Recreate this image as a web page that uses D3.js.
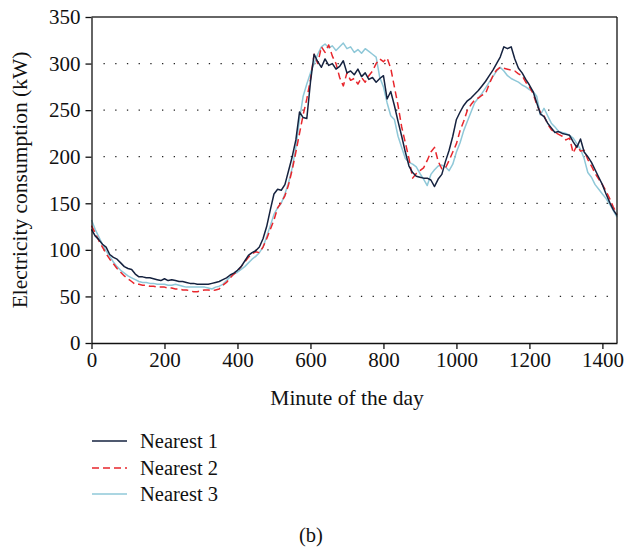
<!DOCTYPE html>
<html>
<head>
<meta charset="utf-8">
<script src="https://cdn.jsdelivr.net/npm/d3@7"></script>
<style>
  html, body { margin: 0; padding: 0; background: #fff; }
  svg { display: block; }
  text { font-family: "Liberation Serif", "DejaVu Serif", serif; fill: #111; }
</style>
</head>
<body>
<svg id="chart" width="632" height="547"></svg>
<script>
// ---- Data ----
const minutes = [0,10,20,30,40,50,60,70,80,90,100,110,120,130,140,150,160,170,180,190,200,210,220,230,240,250,260,270,280,290,300,310,320,330,340,350,360,370,380,390,400,410,420,430,440,450,460,470,480,490,500,510,520,530,540,550,560,570,580,590,600,610,620,630,640,650,660,670,680,690,700,710,720,730,740,750,760,770,780,790,800,810,820,830,840,850,860,870,880,890,900,910,920,930,940,950,960,970,980,990,1000,1010,1020,1030,1040,1050,1060,1070,1080,1090,1100,1110,1120,1130,1140,1150,1160,1170,1180,1190,1200,1210,1220,1230,1240,1250,1260,1270,1280,1290,1300,1310,1320,1330,1340,1350,1360,1370,1380,1390,1400,1410,1420,1430,1440];

const nearest1 = [122,115,111,106,103,95,92,90,86,82,80,79,74,71,71,70,70,69,68,67,69,67,68,67,66,66,65,64,64,63,63,63,63,64,65,66,68,70,73,75,78,82,88,94,97,99,103,112,125,143,160,165,164,170,185,200,218,248,242,241,280,310,302,296,305,298,300,294,297,303,290,292,288,294,286,290,283,285,280,284,287,262,270,255,238,222,205,190,183,179,178,177,177,175,168,176,181,195,207,222,240,248,255,260,263,267,271,276,281,287,293,300,307,318,316,318,305,295,290,283,277,270,258,246,243,236,231,226,227,225,224,223,216,210,219,205,200,194,186,178,170,160,151,143,137];

const nearest2 = [126,118,110,103,96,90,85,80,76,72,69,66,63,63,62,62,61,61,60,60,60,59,59,58,58,57,57,56,55,55,56,57,57,56,57,58,62,65,70,74,77,82,87,92,96,98,97,103,112,122,132,145,151,158,170,186,205,225,245,262,283,310,300,318,312,320,308,300,285,276,290,282,284,278,285,280,287,292,300,305,302,306,295,275,255,232,215,198,177,182,185,188,196,205,210,195,187,188,196,205,214,228,238,250,256,261,263,266,268,278,287,293,296,295,294,293,292,289,287,280,275,268,256,248,244,235,229,226,224,222,218,220,204,212,206,207,197,190,182,176,170,163,155,146,139];

const nearest3 = [132,122,114,106,99,93,87,82,78,75,72,70,68,66,65,65,64,64,63,63,63,62,62,63,62,61,60,60,60,60,60,60,59,58,60,61,63,67,71,74,76,79,82,86,90,93,97,103,114,126,138,145,150,160,172,188,210,240,265,278,290,300,310,318,321,317,319,314,318,322,316,318,312,315,311,316,313,310,307,285,275,258,244,240,222,210,198,194,192,189,182,176,169,181,186,190,191,189,185,192,205,215,228,238,248,258,263,268,274,280,286,292,296,292,287,284,282,280,277,275,272,270,265,245,252,244,236,232,227,226,225,223,220,214,208,198,183,178,170,165,160,155,149,142,135];

const seriesNames = ["Nearest 1", "Nearest 2", "Nearest 3"];
const xTicks = [0, 200, 400, 600, 800, 1000, 1200, 1400];
const yTicks = [0, 50, 100, 150, 200, 250, 300, 350];
const gridValues = [50, 100, 150, 200, 250, 300];

// ---- Layout ----
const svg = d3.select("#chart");
const pLeft = 91.5, pRight = 617, pTop = 17, pBottom = 343;
const x = d3.scaleLinear().domain([0, 1440]).range([pLeft, pRight]);
const y = d3.scaleLinear().domain([0, 350]).range([pBottom, pTop]);

const styles = [
  { color: "#15223f", dash: null },
  { color: "#e8262c", dash: "7,4" },
  { color: "#8fc8d8", dash: null }
];
const allSeries = [nearest1, nearest2, nearest3];

// gridlines (dotted)
svg.append("g").selectAll("line").data(gridValues).join("line")
  .attr("x1", pLeft + 12).attr("x2", pRight - 4)
  .attr("y1", d => y(d)).attr("y2", d => y(d))
  .attr("stroke", "#222").attr("stroke-width", 1.3)
  .attr("stroke-dasharray", "1.3,10.4");

// lines
const line = d3.line().x((d, i) => x(minutes[i])).y(d => y(d));
[2, 1, 0].forEach(k => {
  svg.append("path").datum(allSeries[k])
    .attr("d", line)
    .attr("fill", "none")
    .attr("stroke", styles[k].color)
    .attr("stroke-width", 1.5)
    .attr("stroke-linejoin", "round")
    .attr("stroke-dasharray", styles[k].dash);
});

// frame: top and right
svg.append("line").attr("x1", pLeft).attr("x2", pRight).attr("y1", pTop).attr("y2", pTop)
  .attr("stroke", "#333").attr("stroke-width", 1.3);
svg.append("line").attr("x1", pRight).attr("x2", pRight).attr("y1", pTop).attr("y2", pBottom)
  .attr("stroke", "#111").attr("stroke-width", 1.3);

// axes
const fmt = d3.format("d");
const xAxis = svg.append("g").attr("transform", `translate(0,${pBottom})`)
  .call(d3.axisBottom(x).tickValues(xTicks).tickFormat(fmt).tickSize(6).tickSizeOuter(0).tickPadding(3));
const yAxis = svg.append("g").attr("transform", `translate(${pLeft},0)`)
  .call(d3.axisLeft(y).tickValues(yTicks).tickFormat(fmt).tickSize(6).tickSizeOuter(0).tickPadding(5));
[xAxis, yAxis].forEach(g => {
  g.select(".domain").attr("stroke", "#111").attr("stroke-width", 1.3);
  g.selectAll(".tick line").attr("stroke", "#111").attr("stroke-width", 1.3);
  g.selectAll(".tick text").style("font-family", '"Liberation Serif", serif')
    .style("font-size", "21px").attr("fill", "#111");
});

// axis titles
svg.append("text").attr("x", 347).attr("y", 405)
  .attr("text-anchor", "middle").style("font-size", "21.5px").text("Minute of the day");
svg.append("text").attr("transform", `translate(27,${(pTop + pBottom) / 2}) rotate(-90)`)
  .attr("text-anchor", "middle").style("font-size", "21.5px").text("Electricity consumption (kW)");

// legend
const legY = [441, 468, 494];
seriesNames.forEach((name, k) => {
  svg.append("line").attr("x1", 92).attr("x2", 127)
    .attr("y1", legY[k]).attr("y2", legY[k])
    .attr("stroke", styles[k].color).attr("stroke-width", 1.5)
    .attr("stroke-dasharray", styles[k].dash);
  svg.append("text").attr("x", 140).attr("y", legY[k] + 7)
    .style("font-size", "20.5px").text(name);
});

svg.append("text").attr("x", 311).attr("y", 542).attr("text-anchor", "middle")
  .style("font-size", "20.5px").text("(b)");
</script>
</body>
</html>
